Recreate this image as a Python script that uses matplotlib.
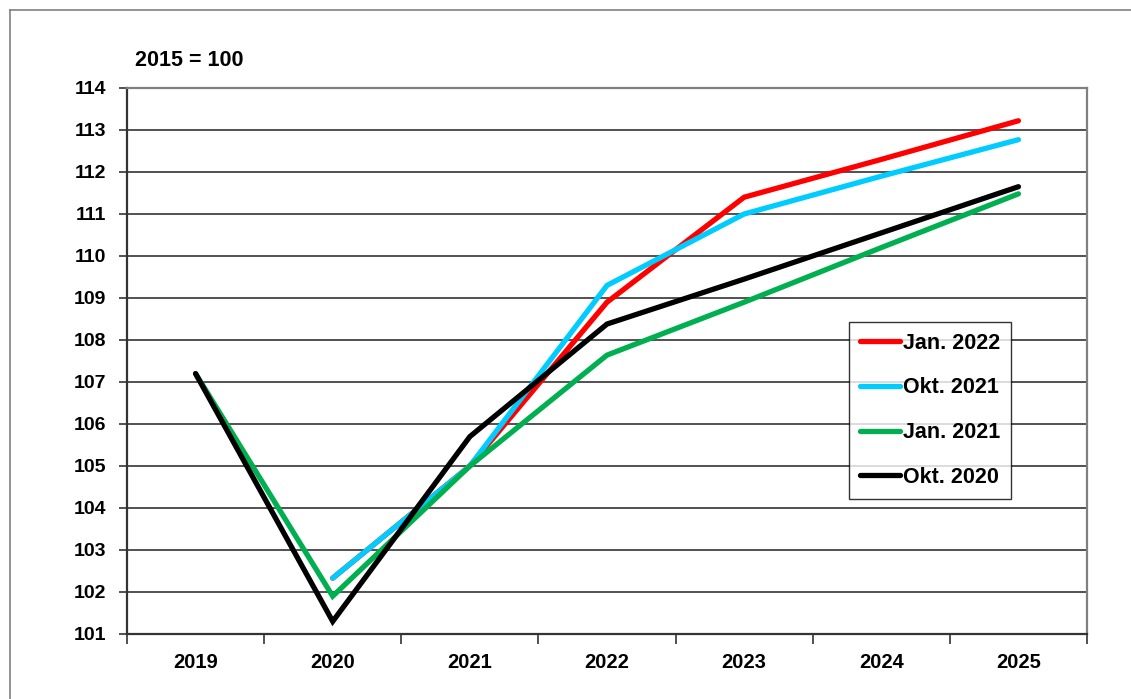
import matplotlib.pyplot as plt
from matplotlib.lines import Line2D

plt.rcParams['font.family'] = ['Liberation Sans', 'DejaVu Sans']
plt.rcParams['font.weight'] = 'bold'

years = ['2019', '2020', '2021', '2022', '2023', '2024', '2025']
jan_2022 = [None, 102.33, 105.0, 108.9, 111.4, 112.3, 113.22]
okt_2021 = [None, 102.33, 105.0, 109.3, 111.0, 111.9, 112.77]
jan_2021 = [107.2, 101.9, 105.0, 107.64, 108.9, 110.2, 111.48]
okt_2020 = [107.2, 101.3, 105.7, 108.38, 109.45, 110.55, 111.65]

series = [
    ('Jan. 2022', jan_2022, '#ff0000', 3),
    ('Okt. 2021', okt_2021, '#00ccff', 4),
    ('Jan. 2021', jan_2021, '#00b050', 5),
    ('Okt. 2020', okt_2020, '#000000', 6),
]

fig = plt.figure(figsize=(11.31, 6.99), dpi=100)
ax = fig.add_axes([127 / 1131, 1 - 634 / 699, 960 / 1131, 546 / 699])

# outer frame of the chart (left and top edges visible)
fig.add_artist(Line2D([10 / 1131, 10 / 1131], [0, 1 - 10 / 699],
                      transform=fig.transFigure, color='#808080', lw=1.2))
fig.add_artist(Line2D([10 / 1131, 1], [1 - 10 / 699, 1 - 10 / 699],
                      transform=fig.transFigure, color='#808080', lw=1.2))

x = list(range(len(years)))
handles = []
for name, vals, col, z in series:
    xs = [i for i, v in zip(x, vals) if v is not None]
    ys = [v for v in vals if v is not None]
    h, = ax.plot(xs, ys, color=col, lw=3.8, solid_capstyle='round',
                 solid_joinstyle='miter', zorder=z, label=name)
    handles.append(h)

ax.set_xlim(-0.5, len(years) - 0.5)
ax.set_ylim(101, 114)
ax.set_yticks(range(101, 115))
ax.set_xticks(x)
ax.set_xticklabels(years)
ax.set_xticks([i - 0.5 for i in range(len(years) + 1)], minor=True)

ax.grid(axis='y', color='#333333', lw=1.2, zorder=1)
ax.set_axisbelow(True)

ax.tick_params(axis='y', length=6, width=1.2, color='#333333', labelsize=14, pad=9)
ax.tick_params(axis='x', which='major', length=0, labelsize=14.5, pad=14)
ax.tick_params(axis='x', which='minor', length=7, width=1.2, color='#333333')
for lab in ax.get_xticklabels() + ax.get_yticklabels():
    lab.set_fontweight('bold')

for side in ('left', 'bottom'):
    ax.spines[side].set_color('#333333')
    ax.spines[side].set_linewidth(1.6)
for side in ('right', 'top'):
    ax.spines[side].set_color('#808080')
    ax.spines[side].set_linewidth(1.6)

fig.text(135 / 1131, 1 - 60 / 699, '2015 = 100', fontsize=15.5, fontweight='bold',
         va='center', ha='left')

leg = ax.legend(handles=handles, loc='upper left',
                bbox_to_anchor=(849 / 1131, 1 - 322 / 699),
                bbox_transform=fig.transFigure,
                prop={'weight': 'bold', 'size': 15.5},
                frameon=True, fancybox=False, handlelength=1.86,
                handletextpad=0.14, labelspacing=1.1, borderpad=0.5,
                borderaxespad=0)
leg.get_frame().set_edgecolor('#000000')
leg.get_frame().set_linewidth(1.0)

fig.savefig('out.png', dpi=100)
